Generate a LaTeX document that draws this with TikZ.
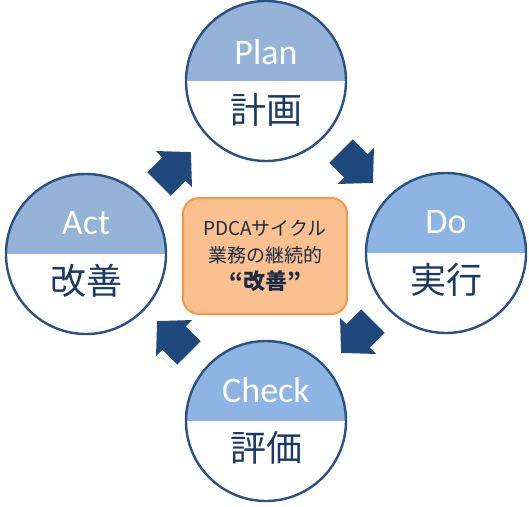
\documentclass[tikz,border=0pt]{standalone}
\usepackage{fontspec}
\setmainfont{Carlito}
\newfontfamily\jafont{Noto Sans CJK JP}
\definecolor{ringline}{HTML}{2A5285}
\definecolor{plantop}{HTML}{95B3D7}
\definecolor{dotop}{HTML}{8DB4E2}
\definecolor{arrowblue}{HTML}{1F497D}
\definecolor{kanji}{HTML}{1A3A66}
\definecolor{corefill}{HTML}{FAC090}
\definecolor{coreline}{HTML}{F79646}
\definecolor{coretext}{HTML}{1C2B45}
\begin{document}
\begin{tikzpicture}[x=1pt,y=-1pt,
  phase/.style={circle,draw=ringline,line width=2.4pt,minimum size=160pt,inner sep=0pt,
    path picture={\fill[#1] (path picture bounding box.north west)
      rectangle (path picture bounding box.east);}},
  en/.style={text=white,font=\fontsize{36}{36}\selectfont},
  ja/.style={text=kanji,font=\jafont\fontsize{36}{36}\selectfont},
  core/.style={rectangle,rounded corners=16pt,draw=coreline,line width=2pt,
    fill=corefill,minimum width=164pt,minimum height=116pt,align=center,
    text=coretext,font=\jafont\fontsize{19}{25}\selectfont},
  blockarrow/.style={fill=arrowblue}]
 \useasboundingbox (0,0) rectangle (529,506);
 \node[phase=plantop] (plan) at (266,81) {};
 \node[phase=dotop] (do) at (446,253) {};
 \node[phase=dotop] (check) at (266,421) {};
 \node[phase=plantop] (act) at (86,254) {};
 \node[en] (plan en) at ([yshift=29pt]plan.center) {Plan};
 \node[ja] (plan ja) at ([yshift=-29pt]plan.center) {計画};
 \node[en] (do en) at ([yshift=31pt]do.center) {Do};
 \node[ja] (do ja) at ([yshift=-27pt]do.center) {実行};
 \node[en] (check en) at ([yshift=31pt]check.center) {Check};
 \node[ja] (check ja) at ([yshift=-27pt]check.center) {評価};
 \node[en] (act en) at ([yshift=31pt]act.center) {Act};
 \node[ja] (act ja) at ([yshift=-27pt]act.center) {改善};
 \node[core] (pdca) at (265,256) {PDCAサイクル\\[2pt]業務の継続的\\[2pt]{\fontsize{22}{25}\selectfont\bfseries “改善”}};
 \fill[blockarrow,shift={(175,168)},rotate=45]
   (-22.5,-16.5) -- (-1.5,-16.5) -- (-1.5,-25.5) -- (22.5,0) -- (-1.5,25.5) -- (-1.5,16.5) -- (-22.5,16.5) -- cycle;
 \fill[blockarrow,shift={(357,167)},rotate=-45]
   (-22.5,-16.5) -- (-1.5,-16.5) -- (-1.5,-25.5) -- (22.5,0) -- (-1.5,25.5) -- (-1.5,16.5) -- (-22.5,16.5) -- cycle;
 \fill[blockarrow,shift={(357,337)},rotate=-135]
   (-22.5,-16.5) -- (-1.5,-16.5) -- (-1.5,-25.5) -- (22.5,0) -- (-1.5,25.5) -- (-1.5,16.5) -- (-22.5,16.5) -- cycle;
 \fill[blockarrow,shift={(173,337)},rotate=135]
   (-22.5,-16.5) -- (-1.5,-16.5) -- (-1.5,-25.5) -- (22.5,0) -- (-1.5,25.5) -- (-1.5,16.5) -- (-22.5,16.5) -- cycle;
\end{tikzpicture}
\end{document}
